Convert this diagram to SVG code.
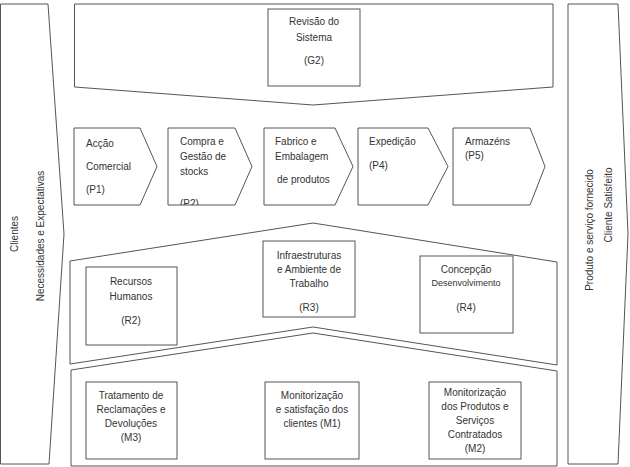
<svg xmlns="http://www.w3.org/2000/svg" width="630" height="467" viewBox="0 0 630 467">
<defs>
<style>
.sh{fill:#fff;stroke:#555;stroke-width:1}
.t{font-family:"Liberation Sans",Arial,sans-serif;font-size:10px;fill:#333}
.c{text-anchor:middle}
</style>
<clipPath id="p2clip"><rect x="168" y="128" width="90" height="77"/></clipPath>
</defs>
<rect width="630" height="467" fill="#fff"/>

<g id="band-left">
<polygon class="sh" points="0.5,4 48,4 64,234 49,464 0.5,464"/>
<text class="t c" transform="translate(18,234) rotate(-90)">Clientes</text>
<text class="t c" transform="translate(44,236) rotate(-90)">Necessidades e Expectativas</text>
</g>

<g id="band-right">
<polygon class="sh" points="568,4 618,4 628,234 618,464 568,464"/>
<text class="t c" transform="translate(593,230) rotate(-90)">Produto e serviço fornecido</text>
<text class="t c" transform="translate(612,205) rotate(-90)">Cliente Satisfeito</text>
</g>

<g id="band-G">
<polygon class="sh" points="74.5,4 553,4 553,87 313,105 74.5,87"/>
</g>
<g id="G2">
<rect class="sh" x="268" y="9" width="92" height="77"/>
<text class="t c" x="314" y="25">Revisão do</text>
<text class="t c" x="314" y="41">Sistema</text>
<text class="t c" x="314" y="64">(G2)</text>
</g>

<g id="P1">
<polygon class="sh" points="74,128 140,128 157,166.5 140,205 74,205"/>
<text class="t" x="86" y="147">Acção</text>
<text class="t" x="86" y="170">Comercial</text>
<text class="t" x="86" y="193">(P1)</text>
</g>
<g id="P2">
<polygon class="sh" points="168,128 235,128 252,166.5 235,205 168,205"/>
<text class="t" x="180" y="145">Compra e</text>
<text class="t" x="180" y="160">Gestão de</text>
<text class="t" x="180" y="175">stocks</text>
<text class="t" x="180" y="207" clip-path="url(#p2clip)">(P2)</text>
</g>
<g id="P3">
<polygon class="sh" points="264,128 335,128 353,166.5 335,205 264,205"/>
<text class="t" x="275" y="145">Fabrico e</text>
<text class="t" x="275" y="160">Embalagem</text>
<text class="t" x="277" y="183">de produtos</text>
</g>
<g id="P4">
<polygon class="sh" points="358,128 428,128 448,166.5 428,205 358,205"/>
<text class="t" x="369" y="145">Expedição</text>
<text class="t" x="369" y="169">(P4)</text>
</g>
<g id="P5">
<polygon class="sh" points="453,128 530,128 545,166.5 530,205 453,205"/>
<text class="t" x="465" y="145">Armazéns</text>
<text class="t" x="465" y="159">(P5)</text>
</g>

<g id="band-R">
<polygon class="sh" points="70,261 313,223 557,262 557,365 313,327 70,364"/>
</g>
<g id="R2">
<rect class="sh" x="86" y="267" width="91" height="78"/>
<text class="t c" x="131" y="285">Recursos</text>
<text class="t c" x="131" y="300">Humanos</text>
<text class="t c" x="131" y="324">(R2)</text>
</g>
<g id="R3">
<rect class="sh" x="263" y="241" width="92" height="76"/>
<text class="t c" x="309" y="259">Infraestruturas</text>
<text class="t c" x="309" y="273">e Ambiente de</text>
<text class="t c" x="309" y="287">Trabalho</text>
<text class="t c" x="309" y="311">(R3)</text>
</g>
<g id="R4">
<rect class="sh" x="420" y="256" width="93" height="77"/>
<text class="t c" x="466" y="273">Concepção</text>
<text class="t c" x="466" y="286" style="font-size:9px">Desenvolvimento</text>
<text class="t c" x="466" y="311">(R4)</text>
</g>

<g id="band-M">
<polygon class="sh" points="71,370 313,333 557,371 557,466 71,466"/>
</g>
<g id="M3">
<rect class="sh" x="86" y="382" width="91" height="77"/>
<text class="t c" x="131" y="399">Tratamento de</text>
<text class="t c" x="131" y="413">Reclamações e</text>
<text class="t c" x="131" y="427">Devoluções</text>
<text class="t c" x="131" y="441">(M3)</text>
</g>
<g id="M1">
<rect class="sh" x="265" y="382" width="94" height="77"/>
<text class="t c" x="312" y="399">Monitorização</text>
<text class="t c" x="312" y="413">e satisfação dos</text>
<text class="t c" x="312" y="427">clientes (M1)</text>
</g>
<g id="M2">
<rect class="sh" x="429" y="382" width="92" height="77"/>
<text class="t c" x="475" y="396">Monitorização</text>
<text class="t c" x="475" y="410">dos Produtos e</text>
<text class="t c" x="475" y="424">Serviços</text>
<text class="t c" x="475" y="438">Contratados</text>
<text class="t c" x="475" y="452">(M2)</text>
</g>
</svg>
